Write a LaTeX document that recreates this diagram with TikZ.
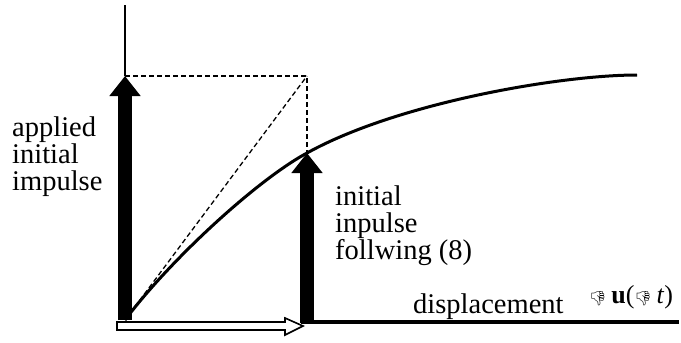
\documentclass[tikz,border=0pt]{standalone}
\usepackage{fontspec}
\setmainfont{Liberation Serif}
\newfontfamily\emofont{Noto Emoji}
\usetikzlibrary{arrows.meta}

\begin{document}
\begin{tikzpicture}[
                x=1pt, y=-1pt,
                every node/.style={inner sep=0pt},
                txt/.style={anchor=base west, align=left, font=\fontsize{28.5}{27}\selectfont},
                bigarrow/.style={line width=14pt, -{Triangle[length=20pt, width=30pt]}},
                guide/.style={dashed, line width=1.3pt, dash pattern=on 5pt off 3pt}
            ]
            \useasboundingbox (0, 0) rectangle (681, 343);

            \coordinate (top) at (125, 5);
            \coordinate (origin) at (125, 320);
            \coordinate (hit) at (125, 76);
            \coordinate (corner) at (307, 76);
            \coordinate (meet) at (307, 153);
            \coordinate (foot) at (307, 323);
            \coordinate (end) at (679, 322);
            \coordinate (far) at (637, 75);

            % impulse before and after
            \draw[bigarrow] (origin) -- (hit);
            \draw[line width=2pt] (hit) -- (top);
            \draw[bigarrow] (foot) -- (meet);
            \draw[line width=4pt] (301, 322) -- (end);

            % guides
            \draw[guide] (hit) -- (corner) -- (meet);
            \draw[guide] (origin) -- (corner);

            % response
            \draw[line width=3pt] (origin) .. controls (170, 260) and (257, 180) .. (meet)
                .. controls (397, 103) and (560, 75) .. (far);

            % displacement step
            \draw[line width=1.6pt, fill=white]
                (117, 322) -- (285, 322) -- (285, 318) -- (303, 326) -- (285, 335)
                -- (285, 330) -- (117, 330) -- cycle;

            \node[txt] (applied) at (12, 190) {applied\\initial\\impulse};
            \node[txt] (follow) at (335, 259) {initial\\inpulse\\follwing (8)};
            \node[txt] (disp) at (413, 313) {displacement};
            \node[anchor=base west, font=\fontsize{26}{26}\selectfont] (du) at (589, 303)
                {{\emofont\fontsize{14}{14}\selectfont 👎}\,\textbf{u}({\emofont\fontsize{14}{14}\selectfont 👎}\,\textit{t})};
        \end{tikzpicture}
\end{document}
